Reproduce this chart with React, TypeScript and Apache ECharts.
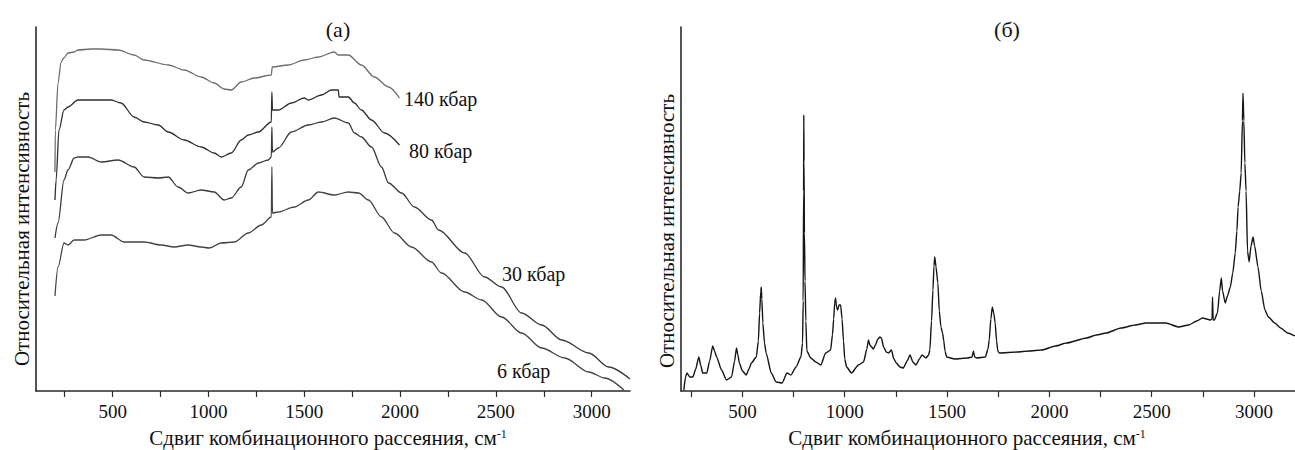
import React, { useEffect, useRef } from "react";
import * as echarts from "echarts";

// Panel (a): Raman spectra at different pressures [wavenumber, relative intensity]
const kbar140: [number, number][] = [
  [199, 219], [201, 261], [215, 308], [231, 329], [245, 333], [267, 338], [299, 339], [319, 341],
  [387, 342], [440, 342], [529, 341], [612, 336], [664, 331], [790, 326], [873, 321], [962, 314],
  [1030, 308], [1082, 302], [1119, 301], [1171, 309], [1239, 313], [1328, 316], [1333, 324],
  [1417, 326], [1500, 331], [1574, 334], [1657, 339], [1678, 336], [1730, 336], [1798, 326],
  [1866, 314], [1940, 304], [1997, 293],
];
const kbar80: [number, number][] = [
  [199, 191], [205, 211], [220, 261], [246, 281], [267, 284], [319, 291], [440, 291], [492, 291],
  [544, 288], [612, 274], [664, 269], [738, 266], [790, 259], [873, 251], [962, 244], [1030, 238],
  [1067, 234], [1119, 238], [1171, 251], [1208, 256], [1260, 259], [1328, 269], [1331, 299],
  [1334, 281], [1365, 281], [1433, 288], [1500, 293], [1521, 291], [1590, 296], [1642, 301],
  [1678, 301], [1681, 294], [1730, 294], [1762, 288], [1798, 281], [1851, 271], [1919, 258],
  [1997, 246],
];
const kbar30: [number, number][] = [
  [199, 153], [215, 168], [246, 211], [267, 221], [299, 233], [319, 234], [372, 234], [440, 229],
  [529, 231], [612, 224], [664, 214], [738, 213], [790, 214], [842, 204], [894, 198], [962, 201],
  [1030, 199], [1082, 191], [1119, 193], [1171, 204], [1208, 221], [1260, 228], [1312, 231],
  [1328, 234], [1331, 264], [1334, 239], [1365, 243], [1433, 259], [1521, 266], [1590, 269],
  [1657, 273], [1730, 268], [1762, 258], [1798, 254], [1851, 244], [1903, 224], [1940, 208],
  [2008, 198], [2075, 184], [2164, 171], [2201, 161], [2337, 138], [2441, 114], [2530, 104],
  [2634, 78], [2739, 66], [2844, 51], [2985, 38], [3089, 24], [3200, 12],
];
const kbar6: [number, number][] = [
  [199, 95], [215, 124], [246, 148], [267, 146], [299, 151], [351, 151], [440, 156], [492, 156],
  [560, 149], [664, 149], [753, 146], [821, 144], [894, 146], [962, 144], [1004, 143], [1067, 148],
  [1135, 149], [1208, 158], [1276, 166], [1328, 174], [1331, 224], [1334, 178], [1365, 179],
  [1448, 184], [1521, 191], [1574, 199], [1657, 196], [1730, 199], [1783, 198], [1835, 191],
  [1903, 174], [1971, 158], [2060, 144], [2164, 129], [2216, 118], [2337, 99], [2426, 91],
  [2530, 74], [2634, 58], [2739, 43], [2859, 33], [2985, 19], [3068, 13], [3168, 1],
];

// Panel (б): single Raman spectrum
const spectrumB: [number, number][] = [
  [214, 1], [222, 14], [229, 18], [243, 14], [258, 14], [272, 22], [287, 34], [296, 26], [306, 18],
  [326, 18], [340, 30], [355, 45], [364, 40], [374, 34], [398, 21], [422, 11], [447, 14], [462, 30],
  [471, 43], [478, 36], [485, 28], [500, 20], [519, 16], [532, 22], [544, 28], [568, 34], [578, 50],
  [584, 78], [590, 100], [592, 104], [595, 92], [600, 68], [608, 48], [616, 38], [641, 18],
  [665, 9], [694, 8], [718, 18], [737, 16], [762, 24], [786, 34], [794, 48], [797, 90], [799, 200],
  [800, 276], [801, 230], [803, 158], [806, 110], [810, 70], [815, 40], [834, 33], [859, 29],
  [883, 26], [907, 38], [931, 41], [940, 56], [946, 72], [951, 88], [955, 93], [960, 84], [965, 81],
  [972, 86], [980, 86], [987, 72], [994, 50], [1000, 32], [1009, 24], [1033, 18], [1067, 26],
  [1092, 29], [1108, 42], [1116, 51], [1123, 46], [1131, 44], [1140, 42], [1150, 46], [1162, 52],
  [1172, 54], [1179, 53], [1190, 44], [1203, 39], [1214, 38], [1228, 41], [1240, 32], [1252, 28],
  [1270, 24], [1286, 23], [1305, 30], [1319, 36], [1333, 29], [1348, 26], [1365, 32], [1378, 36],
  [1397, 33], [1410, 36], [1416, 41], [1424, 70], [1431, 101], [1436, 125], [1440, 134],
  [1446, 124], [1455, 108], [1462, 80], [1470, 64], [1478, 58], [1484, 50], [1490, 40], [1498, 34],
  [1537, 32], [1600, 33], [1622, 34], [1629, 40], [1635, 34], [1644, 33], [1687, 34], [1700, 42],
  [1706, 51], [1714, 72], [1721, 84], [1728, 78], [1735, 68], [1742, 50], [1748, 40], [1755, 38],
  [1842, 39], [1900, 40], [1963, 41], [2030, 45], [2084, 48], [2181, 53], [2230, 56], [2278, 58],
  [2350, 63], [2420, 66], [2472, 68], [2569, 68], [2632, 64], [2680, 66], [2720, 70], [2748, 73],
  [2787, 71], [2795, 72], [2797, 94], [2800, 71], [2806, 71], [2821, 78], [2832, 100], [2840, 113],
  [2846, 100], [2859, 88], [2870, 95], [2884, 104], [2896, 118], [2908, 138], [2916, 160],
  [2922, 184], [2930, 200], [2937, 218], [2943, 270], [2946, 298], [2950, 270], [2955, 228],
  [2961, 200], [2968, 140], [2976, 129], [2985, 145], [2995, 154], [3003, 145], [3019, 124],
  [3035, 100], [3053, 81], [3070, 74], [3101, 68], [3130, 63], [3164, 58], [3200, 55],
];

const tickValues = [250, 500, 750, 1000, 1250, 1500, 1750, 2000, 2250, 2500, 2750, 3000];
const labelValues = [500, 1000, 1500, 2000, 2500, 3000];
const seriesNames = ["140 кбар", "80 кбар", "30 кбар", "6 кбар"];
const panelTitles = ["(а)", "(б)"];
const xAxisTitle = "Сдвиг комбинационного рассеяния, см";
const yAxisTitle = "Относительная интенсивность";

const FONT = "'Liberation Serif', 'Times New Roman', serif";
const AXIS_COLOR = "#2a2a2a";

function makeXAxis(gridIndex: number, min: number) {
  return {
    type: "value",
    gridIndex,
    min,
    max: 3200,
    axisLine: { show: true, onZero: false, lineStyle: { color: AXIS_COLOR, width: 1.6 } },
    axisTick: { show: true, inside: false, length: 6, customValues: tickValues, lineStyle: { color: AXIS_COLOR, width: 1.2 } },
    axisLabel: {
      show: true,
      customValues: labelValues,
      margin: 11,
      fontSize: 19,
      fontFamily: FONT,
      color: "#111",
      formatter: (v: number) => String(v),
    },
    splitLine: { show: false },
  };
}

function makeYAxis(gridIndex: number) {
  return {
    type: "value",
    gridIndex,
    min: 0,
    max: 364,
    axisLine: { show: true, lineStyle: { color: AXIS_COLOR, width: 1.6 } },
    axisTick: { show: false },
    axisLabel: { show: false },
    splitLine: { show: false },
  };
}

const richX = {
  t: { fontSize: 21, fontFamily: FONT, fill: "#111", color: "#111" },
  s: { fontSize: 12, fontFamily: FONT, fill: "#111", color: "#111", verticalAlign: "top" },
};

export default function App() {
  const ref = useRef<HTMLDivElement>(null);
  useEffect(() => {
    if (!ref.current) return;
    const chart = echarts.init(ref.current, undefined, { renderer: "svg" });
    const lineA = (name: string, data: [number, number][], color: string) => ({
      name,
      type: "line",
      xAxisIndex: 0,
      yAxisIndex: 0,
      data,
      showSymbol: false,
      symbol: "none",
      smooth: 0.3,
      smoothMonotone: "x",
      lineStyle: { color, width: 1.3 },
      silent: true,
    });
    chart.setOption({
      animation: false,
      backgroundColor: "#fff",
      grid: [
        { left: 36, top: 27, width: 594, height: 364 },
        { left: 681, top: 27, width: 619, height: 364 },
      ],
      xAxis: [makeXAxis(0, 100), makeXAxis(1, 200)],
      yAxis: [makeYAxis(0), makeYAxis(1)],
      series: [
        lineA(seriesNames[0], kbar140, "#6e6e6e"),
        lineA(seriesNames[1], kbar80, "#2e2e2e"),
        lineA(seriesNames[2], kbar30, "#3a3a3a"),
        lineA(seriesNames[3], kbar6, "#444"),
        {
          name: "spectrum",
          type: "line",
          xAxisIndex: 1,
          yAxisIndex: 1,
          data: spectrumB,
          showSymbol: false,
          symbol: "none",
          smooth: 0.2,
          smoothMonotone: "x",
          lineStyle: { color: "#151515", width: 1.4 },
          silent: true,
        },
      ],
      graphic: [
        { type: "text", x: 338, y: 29, style: { text: panelTitles[0], font: `22px ${FONT}`, fill: "#111", align: "center", verticalAlign: "middle" } },
        { type: "text", x: 1007, y: 29, style: { text: panelTitles[1], font: `22px ${FONT}`, fill: "#111", align: "center", verticalAlign: "middle" } },
        { type: "text", x: 22, y: 229, rotation: Math.PI / 2, style: { text: yAxisTitle, font: `21px ${FONT}`, fill: "#111", align: "center", verticalAlign: "middle" } },
        { type: "text", x: 667, y: 231, rotation: Math.PI / 2, style: { text: yAxisTitle, font: `21px ${FONT}`, fill: "#111", align: "center", verticalAlign: "middle" } },
        { type: "text", x: 328, y: 438, style: { text: `{t|${xAxisTitle}}{s|-1}`, rich: richX, align: "center", verticalAlign: "middle" } },
        { type: "text", x: 967, y: 438, style: { text: `{t|${xAxisTitle}}{s|-1}`, rich: richX, align: "center", verticalAlign: "middle" } },
        { type: "text", x: 404, y: 99, style: { text: seriesNames[0], font: `20px ${FONT}`, fill: "#111", align: "left", verticalAlign: "middle" } },
        { type: "text", x: 409, y: 151, style: { text: seriesNames[1], font: `20px ${FONT}`, fill: "#111", align: "left", verticalAlign: "middle" } },
        { type: "text", x: 502, y: 274, style: { text: seriesNames[2], font: `20px ${FONT}`, fill: "#111", align: "left", verticalAlign: "middle" } },
        { type: "text", x: 497, y: 371, style: { text: seriesNames[3], font: `20px ${FONT}`, fill: "#111", align: "left", verticalAlign: "middle" } },
      ],
    });
    return () => chart.dispose();
  }, []);
  return (
    <div
      ref={ref}
      style={{ position: "absolute", left: 0, top: 0, width: 1295, height: 450, background: "#fff" }}
    />
  );
}
